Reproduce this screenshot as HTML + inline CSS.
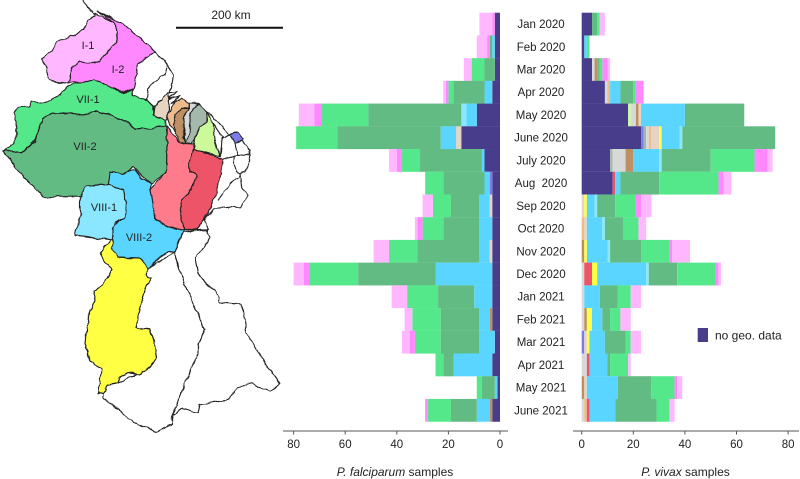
<!DOCTYPE html>
<html lang="en">
<head>
<meta charset="utf-8">
<title>Guyana Shield malaria samples by region and month</title>
<style>
html,body{margin:0;padding:0;background:#fff;}
svg{display:block;font-family:"Liberation Sans",Arial,sans-serif;filter:blur(0.3px);}
#map-regions polygon,#map-regions polyline{stroke:#222;stroke-width:3.4;stroke-linejoin:round;stroke-linecap:round;}
#map-south polygon{stroke:#222;stroke-width:1.15;stroke-linejoin:round;}
</style>
</head>
<body>
<svg id="figure" width="800" height="479" viewBox="0 0 800 479" xmlns="http://www.w3.org/2000/svg">
<defs>
<filter id="wiggle" filterUnits="userSpaceOnUse" x="0" y="0" width="300" height="479" color-interpolation-filters="sRGB">
<feTurbulence type="fractalNoise" baseFrequency="0.11" numOctaves="2" seed="4" result="noise"/>
<feDisplacementMap in="SourceGraphic" in2="noise" scale="4.5" xChannelSelector="R" yChannelSelector="G"/>
</filter>
</defs>
<rect width="800" height="479" fill="#fff"/>

<g filter="url(#wiggle)">
<g id="map-south">
<polygon fill="#fff" points="175,252 182,277 192,300 205,330 198,345 198,353 172,415 173,425 165,427 155,432 148,428 130,420 117,408 103,398 103,394 108,385 118,383 150,368 157,357 153,337 150,330 136,328 140,308 145,290 151,278 147,277 148,268"/>
<polygon fill="#fff" points="183,232 207,230 210,238 195,257 198,273 218,295 220,303 242,305 247,333 263,360 280,383 270,392 253,383 237,388 227,400 213,402 200,405 198,413 182,408 172,415 198,353 198,345 205,330 192,300 182,277 175,252"/>
<polygon fill="#ffff44" points="112,238 115,253 118,257 140,258 148,268 147,277 151,278 145,290 140,308 136,328 150,330 153,337 157,357 150,368 140,374 127,373 120,377 118,383 108,385 103,394 98,393 102,370 90,360 85,343 88,317 95,300 93,291 103,285 112,270 105,262 100,253"/>
<polygon fill="#8be6ff" points="85,186 108,185 123,190 126,203 125,217 115,223 112,240 100,238 82,236 75,235 78,225 80,215 80,200"/>
<polygon fill="#5ad5ff" points="108,173 125,172 135,170 142,178 152,184 150,190 153,203 155,220 170,227 184,230 183,232 175,252 168,251 148,268 140,258 118,257 113,250 113,238 113,227 117,223 125,217 126,203 123,190 108,185"/>
</g>

<g id="map-regions" transform="scale(0.33333)">
<polygon fill="#fff" points="622,335 640,350 690,405 725,420 750,450 752,470 735,515 720,520 725,560 745,590 720,620 640,625 615,660 625,690 590,690"/>
<polyline fill="none" points="670,480 705,470 750,462"/>
<polyline fill="none" points="705,470 700,490 710,515 720,520"/>
<polyline fill="none" points="690,405 665,415 660,470"/>
<polyline fill="none" points="705,432 715,465"/>
<polyline fill="none" points="640,370 668,412"/>
<polyline fill="none" points="720,525 690,550 655,600"/>
<polygon fill="#fff" points="465,155 500,195 520,225 515,260 510,280 490,290 485,305 462,318 430,295 400,285 398,265 410,220 415,190"/>
<polyline fill="none" points="500,205 495,225 465,245 445,270 440,300"/>
<polyline fill="none" points="510,280 530,275 505,300 540,285 515,310 545,295"/>
<polygon fill="#ffb8ff" points="285,40 345,70 352,100 348,130 320,160 300,185 270,188 240,185 215,205 205,245 180,250 150,240 140,210 128,178 155,150 175,125 220,105 250,90 265,60 285,48"/>
<polygon fill="#ff88ff" points="290,33 380,80 465,155 415,190 410,220 400,265 370,275 340,265 285,240 250,250 205,245 215,205 240,185 270,188 300,185 320,160 348,130 352,100 345,70"/>
<polygon fill="#54e88a" points="285,238 340,265 370,278 398,268 400,285 430,295 462,318 458,345 495,360 497,378 460,385 405,388 385,370 350,355 320,340 290,335 240,345 200,340 160,340 125,355 115,390 105,420 65,460 40,455 15,455 50,420 50,380 40,340 50,325 85,318 95,305 130,310 180,285 205,255 250,248"/>
<polygon fill="#63bb84" points="10,457 40,452 65,460 105,425 115,390 125,355 160,340 200,340 240,345 290,335 320,340 350,355 385,370 405,388 460,385 497,378 500,400 498,520 455,552 420,520 400,500 375,520 330,518 325,555 260,558 240,590 130,590 70,530"/>
<polygon fill="#fd7b8a" points="500,378 530,415 545,430 583,432 578,460 565,490 570,515 590,525 580,560 545,600 540,640 553,690 510,680 465,660 458,610 450,570 498,520 500,400"/>
<polygon fill="#ee5468" points="583,450 610,455 670,480 655,560 625,640 590,690 553,690 540,640 545,600 580,560 590,525 570,515 565,490 578,460"/>
<polygon fill="#ccf99a" points="622,335 640,370 645,420 660,470 610,455 583,450 583,420 600,380 620,365"/>
<polygon fill="#a4b8ac" points="598,312 622,335 620,365 600,380 583,420 575,430 558,425 570,385 570,350 580,325"/>
<polygon fill="#d6d9d8" points="568,308 598,312 580,325 570,350 570,385 558,428 552,410 550,355 568,325"/>
<polygon fill="#bd8f63" points="568,325 550,355 550,410 556,430 540,425 530,400 520,370 525,345 545,325"/>
<polygon fill="#eebc8c" points="505,340 525,305 545,295 565,310 568,325 545,325 525,345 520,370 530,398 510,375 503,355"/>
<polygon fill="#e5d4c2" points="490,290 505,280 510,300 505,340 500,355 495,360 460,345 463,318 485,300"/>
<polygon fill="#7c7ce8" points="690,405 715,395 730,415 705,432"/>
<polyline fill="none" points="250,0 265,22 285,45"/>
</g>
</g>

<g font-size="11" fill="#222" text-anchor="middle">
<text x="88" y="49">I-1</text>
<text x="118" y="73">I-2</text>
<text x="88" y="103">VII-1</text>
<text x="85" y="150">VII-2</text>
<text x="104" y="211">VIII-1</text>
<text x="139" y="241">VIII-2</text>
</g>

<g>
<line x1="176" y1="27.7" x2="283" y2="27.7" stroke="#111" stroke-width="2"/>
<text x="231" y="19" font-size="12" fill="#222" text-anchor="middle">200 km</text>
</g>

<g id="left-chart"></g>
<g id="right-chart"></g>
<g id="month-labels" font-size="11.5" fill="#222" text-anchor="middle"></g>

<g>
<rect x="697.7" y="328" width="10.3" height="14" fill="#483d8b"/>
<text x="715" y="339.5" font-size="12" fill="#222">no geo. data</text>
</g>

<text x="395" y="476" font-size="12" fill="#222" text-anchor="middle"><tspan font-style="italic">P. falciparum</tspan> samples</text>
<text x="685.5" y="476" font-size="12" fill="#222" text-anchor="middle"><tspan font-style="italic">P. vivax</tspan> samples</text>
</svg>

<script>
const months = ["Jan 2020","Feb 2020","Mar 2020","Apr 2020","May 2020","June 2020","July 2020","Aug\u00a0 2020","Sep 2020","Oct 2020","Nov 2020","Dec 2020","Jan 2021","Feb 2021","Mar 2021","Apr 2021","May 2021","June 2021"];
const tickLabels = [0,20,40,60,80];
const seriesNames = ["no-geo","periwinkle","lime","sage","light-grey","brown","orange","beige","red","yellow","viii-2","viii-1","vii-2","vii-1","i-2","i-1"];
const seriesColors = ["#483d8b","#7c7ce8","#ccf99a","#a4b8ac","#d6d9d8","#bd8f63","#eebc8c","#e5d4c2","#ee5468","#ffff44","#5ad5ff","#8be6ff","#63bb84","#54e88a","#ff88ff","#ffb8ff"];

const pfNoGeo     = [2,2,2,3,9,15,6,3,3,3,3,3,3,3,2,3,1,3];
const pfPeriwinkle= [0,0,0,0,0,0,0,1,0,0,0,0,0,0,0,0,0,0];
const pfLime      = [0,0,0,0,0,0,0,0,0,0,0,0,0,0,0,0,0,0];
const pfSage      = [0,0,0,0,0,0,0,0,0,0,0,0,0,0,0,0,0,0];
const pfLightGrey = [0,0,0,0,0,0,0,0,0,0,0,0,0,0,0,0,0,0];
const pfBrown     = [0,0,0,0,0,0,0,0,0,0,0,0,0,1,0,0,0,1];
const pfOrange    = [0,0,0,0,0,0,0,0,0,0,0,0,0,0,0,0,0,0];
const pfBeige     = [0,0,0,0,0,2,0,0,1,0,1,0,0,0,0,0,0,0];
const pfRed       = [0,0,0,0,0,0,0,0,0,0,0,0,0,0,0,0,0,0];
const pfYellow    = [0,0,0,0,0,0,0,0,0,0,0,0,0,0,0,0,0,0];
const pfViii2     = [0,1,0,3,4,6,1,2,4,5,4,22,7,4,6,15,1,5];
const pfViii1     = [0,0,0,0,2,0,0,0,0,0,0,0,0,0,0,0,0,0];
const pfVii2      = [0,1,4,12,36,40,24,16,11,14,24,30,14,15,15,4,5,10];
const pfVii1      = [0,0,5,2,18,16,7,7,7,8,11,19,12,11,10,3,2,9];
const pfI2        = [1,1,0,1,3,0,2,0,0,2,0,2,0,0,2,0,0,1];
const pfI1        = [5,4,3,1,6,0,3,0,4,1,6,4,6,3,3,0,0,0];

const pvNoGeo     = [4,1,4,9,18,23,11,12,0,0,0,0,0,0,0,0,0,0];
const pvPeriwinkle= [0,0,0,0,0,1,0,0,0,0,0,0,0,0,1,0,0,0];
const pvLime      = [0,0,0,0,1,0,0,0,0,0,0,0,0,0,0,0,0,0];
const pvSage      = [0,0,0,0,0,1,1,0,0,0,0,0,0,0,0,0,0,0];
const pvLightGrey = [0,0,1,1,2,1,5,0,0,0,0,1,1,1,0,2,0,1];
const pvBrown     = [0,0,1,0,1,0,3,0,0,0,1,0,0,1,0,0,1,0];
const pvOrange    = [0,0,0,1,0,1,0,0,0,1,0,0,0,0,0,0,0,1];
const pvBeige     = [0,0,0,0,1,3,0,0,1,1,0,0,0,0,1,0,1,0];
const pvRed       = [0,0,0,0,0,0,0,1,0,0,0,3,0,0,0,1,0,1];
const pvYellow    = [0,0,0,0,0,1,0,0,1,0,1,2,0,2,1,0,0,0];
const pvViii2     = [0,1,0,4,17,7,10,2,3,6,8,19,6,4,6,7,12,10];
const pvViii1     = [0,0,0,0,0,1,1,0,1,1,1,1,0,0,0,0,0,0];
const pvVii2      = [2,0,1,5,23,36,19,15,7,7,12,11,7,3,8,1,13,16];
const pvVii1      = [1,1,1,1,0,0,17,23,8,6,11,15,5,4,2,7,9,5];
const pvI2        = [0,0,2,3,0,0,5,2,2,0,1,1,0,0,0,0,1,0];
const pvI1        = [2,0,1,0,0,0,2,3,4,3,7,1,4,4,4,1,2,2];

const pfSeries = [pfNoGeo,pfPeriwinkle,pfLime,pfSage,pfLightGrey,pfBrown,pfOrange,pfBeige,pfRed,pfYellow,pfViii2,pfViii1,pfVii2,pfVii1,pfI2,pfI1];
const pvSeries = [pvNoGeo,pvPeriwinkle,pvLime,pvSage,pvLightGrey,pvBrown,pvOrange,pvBeige,pvRed,pvYellow,pvViii2,pvViii1,pvVii2,pvVii1,pvI2,pvI1];

const SVG_NS = "http://www.w3.org/2000/svg";
const UNIT = 2.58;
const ROW_TOP = 12.7;
const ROW_H = 22.72;
const AXIS_Y = 431;
function xLeft(v){ return 500 - v * UNIT; }
function xRight(v){ return 581.7 + v * UNIT; }
function yRow(i){ return ROW_TOP + i * ROW_H; }

function make(tag, parent, props){
  const el = document.createElementNS(SVG_NS, tag);
  for (const k in props) el.setAttribute(k, props[k]);
  parent.appendChild(el);
  return el;
}

function drawStack(parent, series, xFn, prefix){
  months.forEach(function(m, i){
    let sum = 0;
    series.forEach(function(vals, s){
      const v = vals[i];
      if (!v) return;
      const a = xFn(sum), b = xFn(sum + v);
      const bar = make("rect", parent, {x: Math.min(a,b), y: yRow(i), width: Math.abs(b-a), height: ROW_H + 0.1, fill: seriesColors[s]});
      
      
      sum += v;
    });
  });
}

function drawAxis(parent, xFn, x1, x2, prefix){
  const axis = make("line", parent, {x1: x1, x2: x2, y1: AXIS_Y, y2: AXIS_Y, stroke: "#555", "stroke-width": 1});
  
  
  tickLabels.forEach(function(t){
    const tick = make("line", parent, {x1: xFn(t), x2: xFn(t), y1: AXIS_Y, y2: AXIS_Y + 3.5, stroke: "#555", "stroke-width": 1});
    
    
    const label = make("text", parent, {x: xFn(t), y: 448, "font-size": 11.5, fill: "#222", "text-anchor": "middle"});
    
    
    label.textContent = t;
  });
}

const leftG = document.getElementById("left-chart");
const rightG = document.getElementById("right-chart");
drawStack(leftG, pfSeries, xLeft, "pf");
drawStack(rightG, pvSeries, xRight, "pv");
drawAxis(leftG, xLeft, 283, 508, "pf");
drawAxis(rightG, xRight, 573, 799, "pv");

const monthG = document.getElementById("month-labels");
months.forEach(function(m, i){
  const t = make("text", monthG, {x: 541, y: yRow(i) + ROW_H / 2 + 4});
  
  
  t.textContent = m;
});
</script>
</body>
</html>
